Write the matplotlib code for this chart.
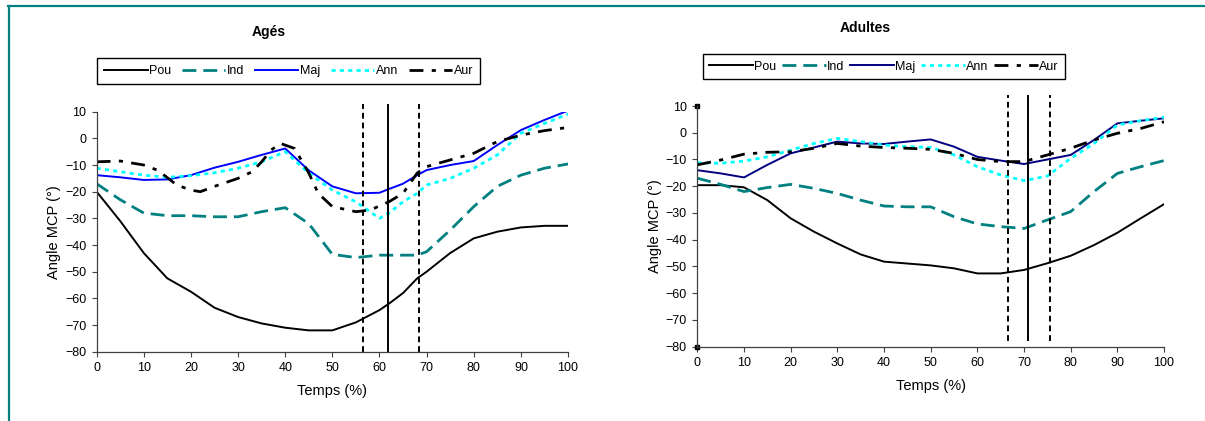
"""
MCP angle curves for older and adult groups, two panels.
"""

import matplotlib
matplotlib.use("Agg")
import matplotlib.pyplot as plt
from matplotlib.lines import Line2D

plt.rcParams["font.family"] = ["Liberation Sans", "DejaVu Sans"]

# Agés (left panel)
x_ages = [0, 5, 10, 15, 20, 25, 30, 35, 40, 45, 50, 55, 60, 62, 65, 68, 70, 75, 80, 85, 90, 95, 100]
pou_ages = [-20, -31, -43, -52.5, -57.5, -63.5, -67, -69.4, -71, -72, -72, -69, -64.4, -62, -58, -52.5,
            -50, -43, -37.5, -35, -33.4, -32.8, -32.8]
ind_ages = [-17, -23, -28, -29, -29, -29.4, -29.4, -27.5, -26, -32, -43.5, -44.7, -43.8, -43.8, -43.8,
            -43.8, -42.5, -34.4, -25.6, -18, -13.8, -11.2, -9.6]
maj_ages = [-13.8, -14.6, -15.6, -15.4, -13.8, -11, -8.8, -6.2, -3.8, -12, -18, -20.6, -20.4, -19,
            -17, -13.8, -11.9, -10, -8.5, -2.5, 3.1, 6.9, 10.4]
ann_ages = [-11.2, -12.5, -13.8, -14.6, -14, -12.9, -11.2, -8.8, -5, -13, -19.4, -23.8, -30, -28,
            -23.8, -20.6, -17.5, -15, -11.2, -6.2, 1.9, 5.6, 9.1]
x_aur_ages = [0, 5, 10, 13, 17, 20, 22, 25, 30, 33, 35, 37, 39, 42, 45, 47, 50, 55, 58, 62, 65, 68,
              70, 75, 80, 85, 90, 95, 100]
aur_ages = [-8.8, -8.5, -10, -12, -17.5, -19.4, -20, -18, -15, -12.5, -8.8, -4.4, -1.9, -3.8, -13,
            -20.6, -25.6, -27.5, -26.9, -23.8, -20.6, -13, -10.6, -8.1, -5.6, -1.2, 1.2, 2.9, 4.1]
vlines_ages = [56.4, 61.9, 68.4]

# Adultes (right panel)
x_adultes = [0, 5, 10, 15, 20, 25, 30, 35, 40, 45, 50, 55, 60, 65, 70, 75, 80, 85, 90, 95, 100]
pou_adultes = [-19.6, -19.6, -20.4, -25.2, -32, -37, -41.4, -45.5, -48.2, -48.9, -49.6, -50.7, -52.6,
               -52.6, -51.3, -48.8, -46, -42, -37.4, -32, -26.7]
ind_adultes = [-17, -19.3, -22, -20.5, -19.3, -20.8, -22.7, -25.2, -27.4, -27.7, -27.7, -31.4, -34.1,
               -35.1, -35.8, -32.6, -29.5, -22, -15.2, -12.7, -10.4]
maj_adultes = [-14, -15.2, -16.7, -12, -7.7, -5.5, -3.3, -4, -4.2, -3.3, -2.5, -5.2, -9, -10.4, -11.7,
               -10, -8.3, -2.7, 3.5, 4.5, 5.4]
ann_adultes = [-11.2, -11.4, -10.6, -9, -6.5, -4, -2.1, -3.3, -4.6, -5.2, -5.5, -8.3, -12.7, -15.8,
               -17.9, -16.2, -9.6, -4, 2.9, 4.5, 5.8]
aur_adultes = [-12, -10.2, -8, -7.3, -7.1, -5.8, -4, -5, -5.5, -5.8, -6.2, -7.7, -10, -10.8, -10.8,
               -8.3, -5.8, -2.7, -0.2, 1.6, 4.1]
vlines_adultes = [66.6, 70.8, 75.6]

teal = "#008080"


def draw_panel(ax, x, pou, ind, maj, ann, x_aur, aur, maj_color, vlines, vtop, vbottom):
    ax.plot(x, pou, color="black", lw=1.4, label="Pou")
    ax.plot(x, ind, color=teal, lw=2, dashes=(5, 2.5), label="Ind")
    ax.plot(x, maj, color=maj_color, lw=1.4, label="Maj")
    ax.plot(x, ann, color="#00FFFF", lw=2, dashes=(1.5, 1.5), label="Ann")
    ax.plot(x_aur, aur, color="black", lw=2, dashes=(5, 3, 1.5, 3), label="Aur")

    # event markers: mean (solid) and spread (dashed)
    ax.vlines(vlines[1], vbottom, vtop, color="black", lw=1.4, clip_on=False)
    ax.vlines([vlines[0], vlines[2]], vbottom, vtop, color="black", lw=1.4,
              linestyles=(0, (3, 2)), clip_on=False)

    ax.set_xlim(0, 100)
    ax.set_ylim(-80, 10)
    ax.set_xticks(range(0, 101, 10))
    ax.set_yticks(range(-80, 11, 10))
    ax.spines["top"].set_visible(False)
    ax.spines["right"].set_visible(False)
    for s in ("left", "bottom"):
        ax.spines[s].set_color("#404040")
        ax.spines[s].set_linewidth(0.9)
    ax.tick_params(labelsize=9, length=3.5, width=0.8, color="#404040", pad=4)
    ax.set_xlabel("Temps (%)", fontsize=10.5, labelpad=7)
    ax.set_ylabel("Angle MCP (°)", fontsize=10.5, labelpad=3)


fig = plt.figure(figsize=(12.05, 4.21), dpi=100)

ax1 = fig.add_axes([0.0802, 0.1646, 0.3912, 0.5701])
draw_panel(ax1, x_ages, pou_ages, ind_ages, maj_ages, ann_ages, x_aur_ages, aur_ages,
           "#0000FF", vlines_ages, 13, -80)

ax2 = fig.add_axes([0.5787, 0.1765, 0.3873, 0.5717])
draw_panel(ax2, x_adultes, pou_adultes, ind_adultes, maj_adultes, ann_adultes, x_adultes,
           aur_adultes, "#000080", vlines_adultes, 14, -78)
ax2.plot([0, 0], [10, -80], ls="none", marker="s", ms=3, color="black", clip_on=False)

fig.text(0.2232, 0.924, "Agés", ha="center", va="center", fontsize=10, fontweight="bold")
fig.text(0.7178, 0.9335, "Adultes", ha="center", va="center", fontsize=10, fontweight="bold")

for ax, cx, cy, colsp in ((ax1, 0.2394, 0.8314, 0.85), (ax2, 0.7336, 0.842, 0.45)):
    h, l = ax.get_legend_handles_labels()
    leg = fig.legend(h, l, loc="center", bbox_to_anchor=(cx, cy), ncol=5, fontsize=9,
                     handlelength=3.5, handletextpad=0.1, columnspacing=colsp,
                     borderpad=0.55, fancybox=False, edgecolor="black", framealpha=1)
    leg.get_frame().set_linewidth(1.0)

# teal frame around the whole chart area
fig.add_artist(Line2D([8 / 1205, 1], [1 - 5.5 / 421, 1 - 5.5 / 421], color=teal, lw=1.6))
fig.add_artist(Line2D([9 / 1205, 9 / 1205], [0, 1 - 5.5 / 421], color=teal, lw=1.6))

fig.savefig("out.png", dpi=100)
